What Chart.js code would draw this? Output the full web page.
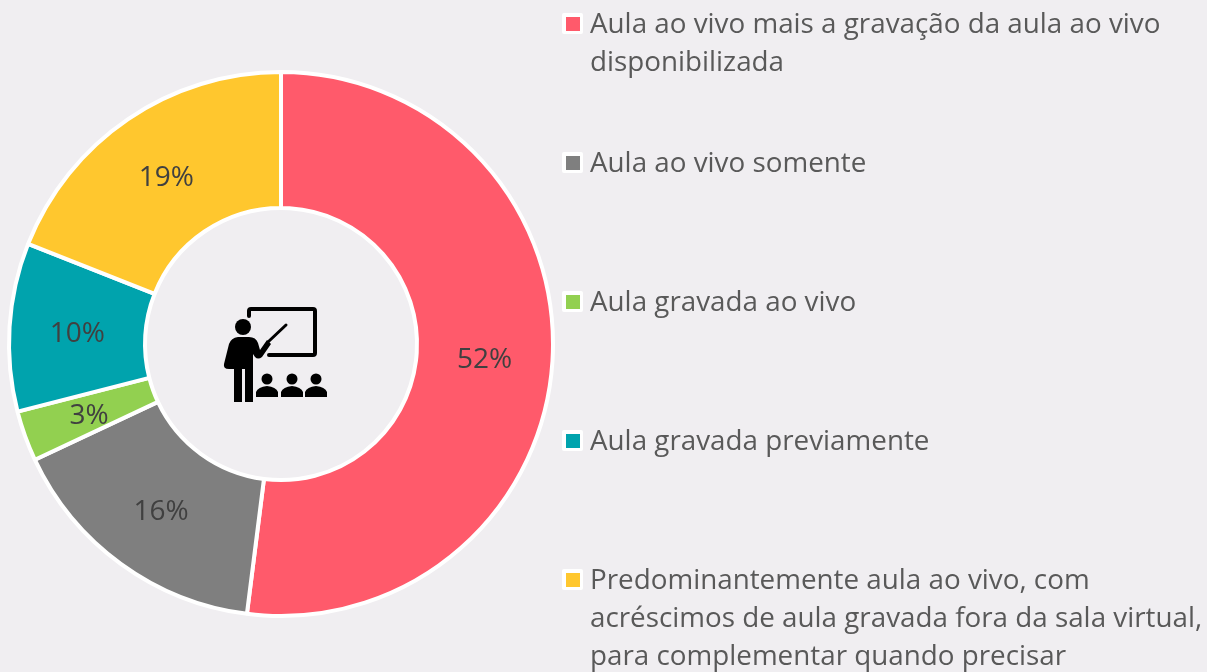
<!DOCTYPE html>
<html lang="pt">
<head>
<meta charset="utf-8">
<title>Aulas</title>
<script src="https://cdn.jsdelivr.net/npm/chart.js@4"></script>
<style>
  html, body { margin: 0; padding: 0; background: #f0eef1; }
  #wrap { position: relative; width: 1207px; height: 672px; overflow: hidden; }
</style>
</head>
<body>
<div id="wrap"><canvas id="aulasChart"></canvas></div>
<script>
// Dados
const categories = [
  ['Aula ao vivo mais a gravação da aula ao vivo', 'disponibilizada'],
  ['Aula ao vivo somente'],
  ['Aula gravada ao vivo'],
  ['Aula gravada previamente'],
  ['Predominantemente aula ao vivo, com', 'acréscimos de aula gravada fora da sala virtual,', 'para complementar quando precisar']
];
const values = [52, 16, 3, 10, 19];
const colors = ['#ff5a6b', '#7f7f7f', '#92d050', '#00a3ad', '#ffc72e'];

const FONT = '"Open Sans", sans-serif';
const TEXT = '#595959';

// Rótulos de porcentagem sobre as fatias
const sliceLabels = {
  id: 'sliceLabels',
  afterDatasetsDraw(chart) {
    const c = chart.ctx;
    c.save();
    c.font = '28px ' + FONT;
    c.fillStyle = '#404040';
    c.textAlign = 'center';
    c.textBaseline = 'middle';
    chart.getDatasetMeta(0).data.forEach((arc, i) => {
      const p = arc.tooltipPosition();
      c.fillText(values[i] + '%', p.x, p.y + 3);
    });
    c.restore();
  }
};

// Legenda à direita, com quebra de linha
const sideLegend = {
  id: 'sideLegend',
  afterDraw(chart) {
    const c = chart.ctx;
    const rowY = [24, 163, 302, 441, 580];
    c.save();
    categories.forEach((lines, i) => {
      c.fillStyle = '#ffffff';
      c.beginPath();
      c.roundRect(562, rowY[i] - 11, 21, 21, 2);
      c.fill();
      c.fillStyle = colors[i];
      c.fillRect(566, rowY[i] - 7, 14, 14);
      c.fillStyle = TEXT;
      c.font = '27.8px ' + FONT;
      c.textAlign = 'left';
      c.textBaseline = 'alphabetic';
      lines.forEach((t, j) => c.fillText(t, 590, rowY[i] + 9 + j * 38));
    });
    c.restore();
  }
};

// Ícone do professor no centro
const teacherIcon = {
  id: 'teacherIcon',
  afterDraw(chart) {
    const c = chart.ctx;
    c.save();
    c.strokeStyle = '#000';
    c.fillStyle = '#000';
    c.lineCap = 'round';
    c.lineJoin = 'round';
    // quadro
    c.lineWidth = 4;
    c.beginPath();
    c.moveTo(249, 316);
    c.lineTo(249, 311);
    c.quadraticCurveTo(249, 309, 251, 309);
    c.lineTo(313, 309);
    c.quadraticCurveTo(315, 309, 315, 311);
    c.lineTo(315, 353);
    c.quadraticCurveTo(315, 355, 313, 355);
    c.lineTo(269, 355);
    c.stroke();
    // ponteiro
    c.lineWidth = 3;
    c.beginPath();
    c.moveTo(286, 325);
    c.lineTo(268, 342);
    c.stroke();
    // cabeça
    c.beginPath();
    c.arc(243, 327, 8, 0, Math.PI * 2);
    c.fill();
    // corpo
    c.beginPath();
    c.moveTo(234, 402);
    c.lineTo(234, 369);
    c.lineTo(229, 369);
    c.quadraticCurveTo(223, 369, 224, 364);
    c.lineTo(229, 344);
    c.quadraticCurveTo(231, 338, 238, 337);
    c.lineTo(249, 337);
    c.quadraticCurveTo(256, 337, 258, 343);
    c.lineTo(260, 350);
    c.lineTo(267, 340);
    c.lineTo(271, 344);
    c.lineTo(262, 357);
    c.quadraticCurveTo(258, 360, 255, 357);
    c.lineTo(253, 354);
    c.lineTo(253, 402);
    c.lineTo(245, 402);
    c.lineTo(245, 369);
    c.lineTo(242, 369);
    c.lineTo(242, 402);
    c.closePath();
    c.fill();
    // alunos
    [267, 292, 316].forEach(x => {
      c.beginPath();
      c.arc(x, 379, 5.5, 0, Math.PI * 2);
      c.fill();
      c.beginPath();
      c.moveTo(x - 11, 397);
      c.lineTo(x - 11, 392);
      c.quadraticCurveTo(x - 9, 387, x, 386);
      c.quadraticCurveTo(x + 9, 387, x + 11, 392);
      c.lineTo(x + 11, 397);
      c.closePath();
      c.fill();
    });
    c.restore();
  }
};

const ctx = document.getElementById('aulasChart').getContext('2d');
new Chart(ctx, {
  type: 'doughnut',
  data: {
    labels: categories.map(l => l.join(' ')),
    datasets: [{
      data: values,
      backgroundColor: colors,
      borderColor: '#ffffff',
      borderWidth: 4
    }]
  },
  options: {
    responsive: true,
    maintainAspectRatio: false,
    animation: false,
    cutout: '50%',
    layout: { padding: { left: 7, right: 652, top: 70, bottom: 54 } },
    plugins: { legend: { display: false }, tooltip: { enabled: false } }
  },
  plugins: [sliceLabels, sideLegend, teacherIcon]
});
</script>
</body>
</html>
